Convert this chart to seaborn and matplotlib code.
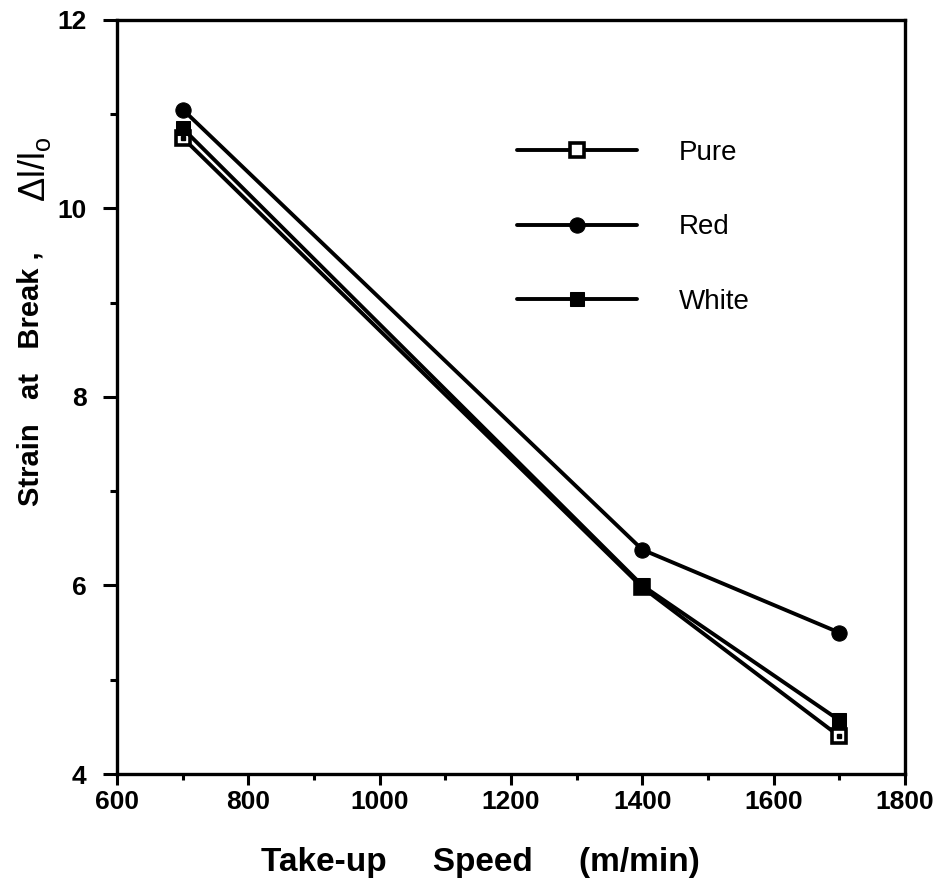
import matplotlib
matplotlib.use("Agg")
import matplotlib.pyplot as plt
from matplotlib.ticker import MultipleLocator
import seaborn as sns
import pandas as pd

# Take-up speed (m/min) and strain at break for each fibre
speed = [700, 1400, 1700]
pure = [10.75, 5.98, 4.40]
red = [11.05, 6.38, 5.50]
white = [10.85, 6.00, 4.57]

series_names = ["Pure", "Red", "White"]
x_ticks = [600, 800, 1000, 1200, 1400, 1600, 1800]
y_ticks = [4, 6, 8, 10, 12]

df = pd.DataFrame({
    "speed": speed * 3,
    "strain": pure + red + white,
    "fibre": [n for n in series_names for _ in speed],
})

sns.set_theme(style="ticks")
plt.rcParams["font.family"] = ["Liberation Sans", "DejaVu Sans"]
plt.rcParams.update({
    "text.color": "black",
    "axes.labelcolor": "black",
    "xtick.color": "black",
    "ytick.color": "black",
    "mathtext.fontset": "custom",
    "mathtext.rm": "Liberation Sans",
})

fig = plt.figure(figsize=(9.44, 8.91), dpi=100)
ax = fig.add_axes([0.124, 0.1313, 0.8347, 0.8463])

styles = {
    "Pure": dict(marker="s", markerfacecolor="white", markeredgecolor="black",
                 markeredgewidth=2.6, markersize=10),
    "Red": dict(marker="o", markerfacecolor="black", markeredgecolor="black",
                markersize=11),
    "White": dict(marker="s", markerfacecolor="black", markeredgecolor="black",
                  markersize=10),
}

for name in series_names:
    sub = df[df["fibre"] == name]
    sns.lineplot(data=sub, x="speed", y="strain", ax=ax, color="black",
                 linewidth=2.8, label=name, **styles[name])

# small dot inside the open squares
sub = df[df["fibre"] == "Pure"]
ax.plot(sub["speed"], sub["strain"], linestyle="none", marker="s",
        markersize=2.5, color="black", zorder=5)

ax.set_xlim(600, 1800)
ax.set_ylim(4, 12)
ax.set_xticks(x_ticks)
ax.set_yticks(y_ticks)
ax.xaxis.set_minor_locator(MultipleLocator(100))
ax.yaxis.set_minor_locator(MultipleLocator(1))
ax.tick_params(axis="x", which="major", direction="out", length=8, width=2.2,
               labelsize=19, pad=3.5)
ax.tick_params(axis="x", which="minor", direction="out", length=4, width=2.2)
ax.tick_params(axis="y", which="major", direction="out", length=10, width=2.2,
               labelsize=19, pad=12)
ax.tick_params(axis="y", which="minor", direction="out", length=5, width=2.2)
for lbl in ax.get_xticklabels() + ax.get_yticklabels():
    lbl.set_fontweight("bold")

for sp in ax.spines.values():
    sp.set_visible(True)
    sp.set_linewidth(2.4)
    sp.set_color("black")

ax.set_xlabel("")
ax.set_ylabel("")

fig.text(0.509, 0.0325, "Take-up     Speed     (m/min)", fontsize=24,
         fontweight="bold", ha="center", va="center")
fig.text(0.032, 0.575, "Strain   at   Break ,", rotation=90, fontsize=21,
         fontweight="bold", ha="center", va="center")
fig.text(0.037, 0.81, r"$\Delta$l/l$_{\mathrm{o}}$", rotation=90, fontsize=26,
         ha="center", va="center")

leg = ax.legend(loc="upper left", bbox_to_anchor=(0.508, 0.841), frameon=False,
                handlelength=4.3, handletextpad=1.5, labelspacing=1.75,
                fontsize=20, borderaxespad=0, borderpad=0)

fig.savefig("out.png", dpi=100, facecolor="white")
